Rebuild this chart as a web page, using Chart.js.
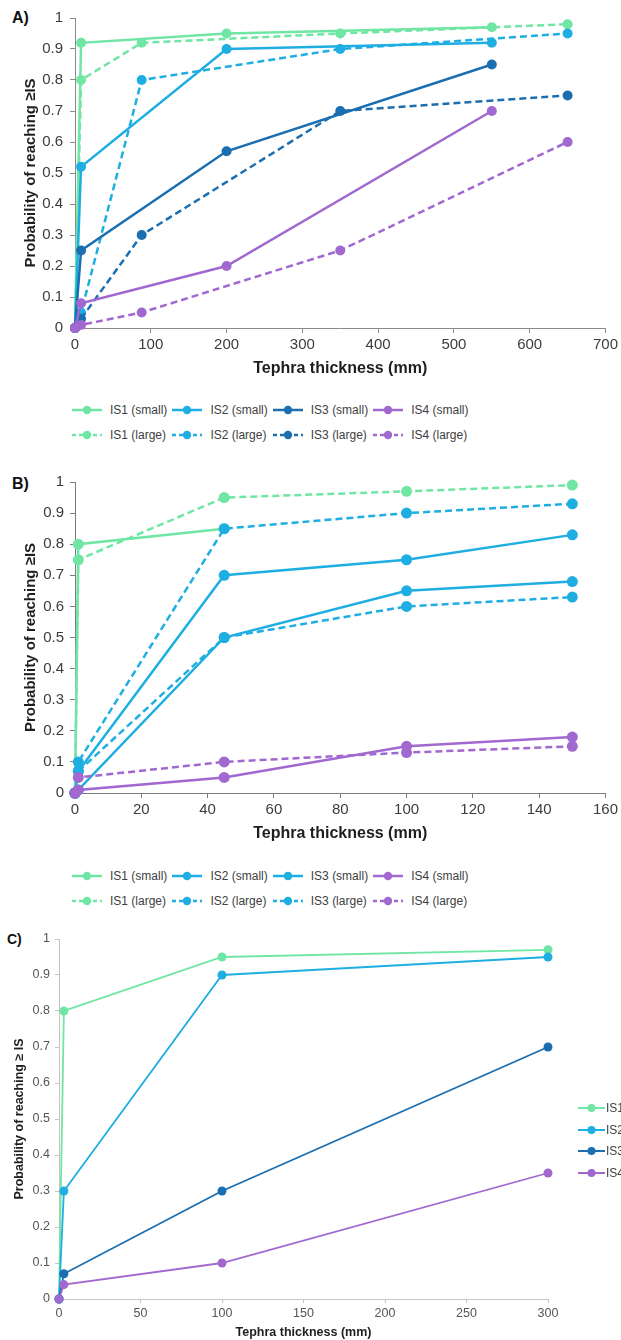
<!DOCTYPE html>
<html>
<head>
<meta charset="utf-8">
<script src="https://cdn.jsdelivr.net/npm/chart.js@4.4.1/dist/chart.umd.min.js"></script>
<style>
  html, body { margin: 0; padding: 0; background: #fff; }
  body { width: 621px; height: 1340px; position: relative; overflow: hidden; font-family: "Liberation Sans", Arial, sans-serif; }
  canvas { position: absolute; left: 0; }
  .tag { position: absolute; font: bold 16px "Liberation Sans", Arial, sans-serif; color: #111; line-height: 16px; }
  .legend { position: absolute; left: 72px; font-size: 12px; color: #404040; }
  .legend .row { display: grid; grid-template-columns: repeat(4, 100.4px); height: 25px; align-items: center; }
  .legend .item { display: flex; align-items: center; white-space: nowrap; }
  .legend svg { margin-right: 8px; flex: none; }
  .side { position: absolute; left: 578px; top: 1097px; font-size: 12px; color: #404040; }
  .side .item { display: flex; align-items: center; height: 21.7px; white-space: nowrap; }
  .side svg { margin-right: 1px; flex: none; }
</style>
</head>
<body>
<div class="tag" style="left:12px; top:10px;">A)</div>
<canvas id="chartA" width="621" height="380" style="top:0;"></canvas>
<div class="legend" id="legendA" style="top:397px;"></div>

<div class="tag" style="left:12px; top:476px;">B)</div>
<canvas id="chartB" width="621" height="380" style="top:465px;"></canvas>
<div class="legend" id="legendB" style="top:863px;"></div>

<div class="tag" style="left:7px; top:931px; font-size:14px;">C)</div>
<canvas id="chartC" width="621" height="420" style="top:920px;"></canvas>
<div class="side" id="legendC"></div>

<script>
// colours per intensity state
const cIS1 = '#6fe6a3';
const cIS2 = '#1eaee2';
const cIS3 = '#1b6eb0';
const cIS4 = '#a168cf';

const probTicks = [0, 0.1, 0.2, 0.3, 0.4, 0.5, 0.6, 0.7, 0.8, 0.9, 1];

// A) tephra thickness (mm) vs probability
const aTicksX = [0, 100, 200, 300, 400, 500, 600, 700];
const aSmallX = [0, 8, 200, 550];
const aLargeX = [0, 8, 88, 350, 650];
const aIS1small = [0, 0.92, 0.95, 0.97];
const aIS2small = [0, 0.52, 0.90, 0.92];
const aIS3small = [0, 0.25, 0.57, 0.85];
const aIS4small = [0, 0.08, 0.20, 0.70];
const aIS1large = [0, 0.80, 0.92, 0.95, 0.98];
const aIS2large = [0, 0.05, 0.80, 0.90, 0.95];
const aIS3large = [0, 0.03, 0.30, 0.70, 0.75];
const aIS4large = [0, 0.01, 0.05, 0.25, 0.60];

// B)
const bTicksX = [0, 20, 40, 60, 80, 100, 120, 140, 160];
const bX = [0, 1, 45, 100, 150];
const bIS1smallX = [0, 1, 45];
const bIS1small = [0, 0.80, 0.85];
const bIS2small = [0, 0.07, 0.70, 0.75, 0.83];
const bIS3small = [0, 0.01, 0.50, 0.65, 0.68];
const bIS4small = [0, 0.01, 0.05, 0.15, 0.18];
const bIS1large = [0, 0.75, 0.95, 0.97, 0.99];
const bIS2large = [0, 0.10, 0.85, 0.90, 0.93];
const bIS3large = [0, 0.07, 0.50, 0.60, 0.63];
const bIS4large = [0, 0.05, 0.10, 0.13, 0.15];

// C)
const cTicksX = [0, 50, 100, 150, 200, 250, 300];
const cX = [0, 3, 100, 300];
const cIS1vals = [0, 0.80, 0.95, 0.97];
const cIS2vals = [0, 0.30, 0.90, 0.95];
const cIS3vals = [0, 0.07, 0.30, 0.70];
const cIS4vals = [0, 0.04, 0.10, 0.35];

const FONT = '"Liberation Sans", Arial, sans-serif';

function pts(xs, ys) {
  return xs.map((x, i) => ({ x, y: ys[i] }));
}

function line(label, xs, ys, color, dashed, width, radius) {
  return {
    label,
    data: pts(xs, ys),
    borderColor: color,
    backgroundColor: color,
    pointBackgroundColor: color,
    pointBorderColor: color,
    pointBorderWidth: 0,
    pointRadius: radius,
    borderWidth: width,
    borderDash: dashed ? [7, 4] : [],
    tension: 0,
    fill: false,
    clip: false,
  };
}

function panelOptions(p) {
  return {
    responsive: false,
    animation: false,
    layout: { padding: p.pad },
    plugins: { legend: { display: false }, tooltip: { enabled: false } },
    scales: {
      x: {
        type: 'linear',
        min: p.xTicks[0],
        max: p.xTicks[p.xTicks.length - 1],
        afterBuildTicks: s => { s.ticks = p.xTicks.map(v => ({ value: v })); },
        afterFit: s => { s.height = p.xHeight; },
        grid: { drawOnChartArea: false, color: p.axisColor, tickLength: p.tickLen },
        border: { color: p.axisColor },
        ticks: { color: p.tickColor, font: { family: FONT, size: p.tickSize }, padding: 3, maxRotation: 0, autoSkip: false,
                 callback: v => String(v) },
        title: { display: true, text: 'Tephra thickness (mm)', color: '#1e1e1e',
                 font: { family: FONT, size: p.xTitleSize, weight: 'bold' }, padding: { top: 0, bottom: p.xTitlePad } }
      },
      y: {
        type: 'linear',
        min: 0,
        max: 1,
        afterBuildTicks: s => { s.ticks = probTicks.map(v => ({ value: v })); },
        afterFit: s => { s.width = p.yWidth; },
        grid: { drawOnChartArea: false, color: p.axisColor, tickLength: p.tickLen },
        border: { color: p.axisColor },
        ticks: { color: p.tickColor, font: { family: FONT, size: p.tickSize }, padding: p.yTickPad, autoSkip: false,
                 callback: v => String(Math.round(v * 10) / 10) },
        title: { display: true, text: p.yTitle, color: '#1e1e1e',
                 font: { family: FONT, size: p.yTitleSize, weight: 'bold' }, padding: { top: p.yTitlePad, bottom: 0 } }
      }
    }
  };
}

new Chart(document.getElementById('chartA'), {
  type: 'line',
  data: {
    datasets: [
      line('IS4 (small)', aSmallX, aIS4small, cIS4, false, 2.5, 5),
      line('IS4 (large)', aLargeX, aIS4large, cIS4, true, 2.5, 5),
      line('IS3 (small)', aSmallX, aIS3small, cIS3, false, 2.5, 5),
      line('IS3 (large)', aLargeX, aIS3large, cIS3, true, 2.5, 5),
      line('IS2 (small)', aSmallX, aIS2small, cIS2, false, 2.5, 5),
      line('IS2 (large)', aLargeX, aIS2large, cIS2, true, 2.5, 5),
      line('IS1 (small)', aSmallX, aIS1small, cIS1, false, 2.5, 5),
      line('IS1 (large)', aLargeX, aIS1large, cIS1, true, 2.5, 5),
    ]
  },
  options: panelOptions({
    pad: { top: 18, right: 13, left: 0, bottom: 0 },
    xTicks: aTicksX, xHeight: 52, xTitleSize: 16, xTitlePad: 2,
    yWidth: 75, yTitle: 'Probability of reaching \u2265IS', yTitleSize: 15, yTitlePad: 22, yTickPad: 7,
    axisColor: '#8a8a8a', tickColor: '#3c3c3c', tickSize: 15, tickLen: 5
  })
});

new Chart(document.getElementById('chartB'), {
  type: 'line',
  data: {
    datasets: [
      line('IS4 (small)', bX, bIS4small, cIS4, false, 2.5, 5.5),
      line('IS4 (large)', bX, bIS4large, cIS4, true, 2.5, 5.5),
      line('IS2 (large)', bX, bIS2large, cIS2, true, 2.5, 5.5),
      line('IS3 (large)', bX, bIS3large, cIS2, true, 2.5, 5.5),
      line('IS2 (small)', bX, bIS2small, cIS2, false, 2.5, 5.5),
      line('IS3 (small)', bX, bIS3small, cIS2, false, 2.5, 5.5),
      line('IS1 (small)', bIS1smallX, bIS1small, cIS1, false, 2.5, 5.5),
      line('IS1 (large)', bX, bIS1large, cIS1, true, 2.5, 5.5),
    ]
  },
  options: panelOptions({
    pad: { top: 17, right: 14, left: 0, bottom: 0 },
    xTicks: bTicksX, xHeight: 52, xTitleSize: 16, xTitlePad: 2,
    yWidth: 75, yTitle: 'Probability of reaching \u2265IS', yTitleSize: 15, yTitlePad: 22, yTickPad: 6,
    axisColor: '#7c7c7c', tickColor: '#3c3c3c', tickSize: 15, tickLen: 5
  })
});

new Chart(document.getElementById('chartC'), {
  type: 'line',
  data: {
    datasets: [
      line('IS4', cX, cIS4vals, cIS4, false, 1.8, 4.5),
      line('IS3', cX, cIS3vals, cIS3, false, 1.8, 4.5),
      line('IS2', cX, cIS2vals, cIS2, false, 1.8, 4.5),
      line('IS1', cX, cIS1vals, cIS1, false, 1.8, 4.5),
    ]
  },
  options: panelOptions({
    pad: { top: 19, right: 73, left: 0, bottom: 0 },
    xTicks: cTicksX, xHeight: 41, xTitleSize: 12.5, xTitlePad: 0,
    yWidth: 59, yTitle: 'Probability of reaching \u2265 IS', yTitleSize: 12.5, yTitlePad: 12.5, yTickPad: 5,
    axisColor: '#c4c4c4', tickColor: '#555555', tickSize: 12.5, tickLen: 4
  })
});

// HTML legends
function swatch(color, dashed, w, lw, r) {
  return `<svg width="${w}" height="12"><line x1="0" y1="6" x2="${w}" y2="6" stroke="${color}" stroke-width="${lw}"` +
    (dashed ? ' stroke-dasharray="4 3"' : '') + `/><circle cx="${w / 2}" cy="6" r="${r}" fill="${color}"/></svg>`;
}

function gridLegend(el, names, colors) {
  const rows = [['small', false], ['large', true]];
  el.innerHTML = rows.map(([size, dashed]) =>
    '<div class="row">' + names.map((n, i) =>
      `<div class="item">${swatch(colors[i], dashed, 30, 2.5, 4.2)}<span>${n} (${size})</span></div>`
    ).join('') + '</div>'
  ).join('');
}

const isNames = ['IS1', 'IS2', 'IS3', 'IS4'];
gridLegend(document.getElementById('legendA'), isNames, [cIS1, cIS2, cIS3, cIS4]);
gridLegend(document.getElementById('legendB'), isNames, [cIS1, cIS2, cIS2, cIS4]);

document.getElementById('legendC').innerHTML = isNames.map((n, i) =>
  `<div class="item">${swatch([cIS1, cIS2, cIS3, cIS4][i], false, 27, 2, 4)}<span>${n}</span></div>`
).join('');
</script>
</body>
</html>
